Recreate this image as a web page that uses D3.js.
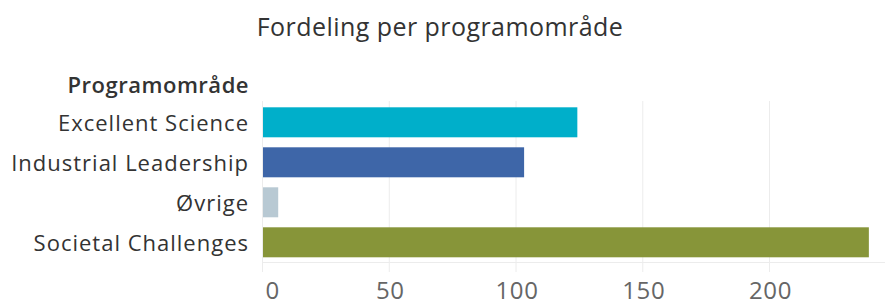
<!DOCTYPE html>
<html>
<head>
<meta charset="utf-8">
<script src="https://cdn.jsdelivr.net/npm/d3@7"></script>
<style>
  body { margin: 0; background: #fff; }
  svg text { font-family: "Open Sans", sans-serif; }
</style>
</head>
<body>
<svg id="chart"></svg>
<script>
// data
const categories = ["Excellent Science", "Industrial Leadership", "Øvrige", "Societal Challenges"];
const values = [124, 103, 6, 239];
const barColors = ["#00afca", "#3e66a8", "#b8c9d3", "#879539"];
const tickValues = [0, 50, 100, 150, 200];
const title = "Fordeling per programområde";
const rowHeader = "Programområde";

const width = 885, height = 305;

const svg = d3.select("#chart")
    .attr("width", width)
    .attr("height", height);

// scales
const x = d3.scaleLinear()
    .domain([0, 200])
    .range([263, 770]);
const y = d3.scaleBand()
    .domain(categories)
    .range([102.3, 262.3])
    .paddingInner(0.25)
    .paddingOuter(0.125);

const gridTop = 101, gridBottom = 272;

// title
svg.append("text")
    .attr("x", 440)
    .attr("y", 36)
    .attr("text-anchor", "middle")
    .attr("fill", "#333")
    .style("font-size", "25px")
    .style("letter-spacing", "0.45px")
    .text(title);

// row header
svg.append("text")
    .attr("x", 249)
    .attr("y", 93)
    .attr("text-anchor", "end")
    .attr("fill", "#333")
    .style("font-size", "22px")
    .style("font-weight", 600)
    .style("letter-spacing", "0.5px")
    .text(rowHeader);

// vertical gridlines
svg.append("g")
    .selectAll("line")
    .data(tickValues)
    .join("line")
    .attr("x1", d => x(d) - 0.5)
    .attr("x2", d => x(d) - 0.5)
    .attr("y1", gridTop)
    .attr("y2", gridBottom)
    .attr("stroke", "#ececec")
    .attr("stroke-width", 1);

// horizontal axis line
svg.append("line")
    .attr("x1", x(0) - 1)
    .attr("x2", width)
    .attr("y1", 262.5)
    .attr("y2", 262.5)
    .attr("stroke", "#ececec");

// bars
svg.append("g")
    .selectAll("rect")
    .data(categories)
    .join("rect")
    .attr("x", x(0))
    .attr("y", d => y(d))
    .attr("width", (d, i) => x(values[i]) - x(0))
    .attr("height", y.bandwidth())
    .attr("fill", (d, i) => barColors[i]);

// category labels
svg.append("g")
    .selectAll("text")
    .data(categories)
    .join("text")
    .attr("x", 249)
    .attr("y", d => y(d) + y.bandwidth() / 2 + 8.3)
    .attr("text-anchor", "end")
    .attr("fill", "#333")
    .style("font-size", "22px")
    .style("letter-spacing", "1px")
    .text(d => d);

// x axis
const xAxis = d3.axisBottom(x)
    .tickValues(tickValues)
    .tickSize(0)
    .tickPadding(0);

const xAxisGroup = svg.append("g")
    .attr("class", "axis x-axis")
    .attr("transform", "translate(0, 298.5)")
    .call(xAxis);

xAxisGroup.select(".domain").remove();
xAxisGroup.selectAll("text")
    .attr("dy", 0)
    .attr("fill", "#666")
    .style("font-size", "24px")
    .style("letter-spacing", "0.6px")
    .style("font-family", "'Open Sans', sans-serif");
// first label sits to the right of the zero line
xAxisGroup.selectAll(".tick text")
    .filter(d => d === 0)
    .attr("text-anchor", "start")
    .attr("x", 2);
</script>
</body>
</html>
